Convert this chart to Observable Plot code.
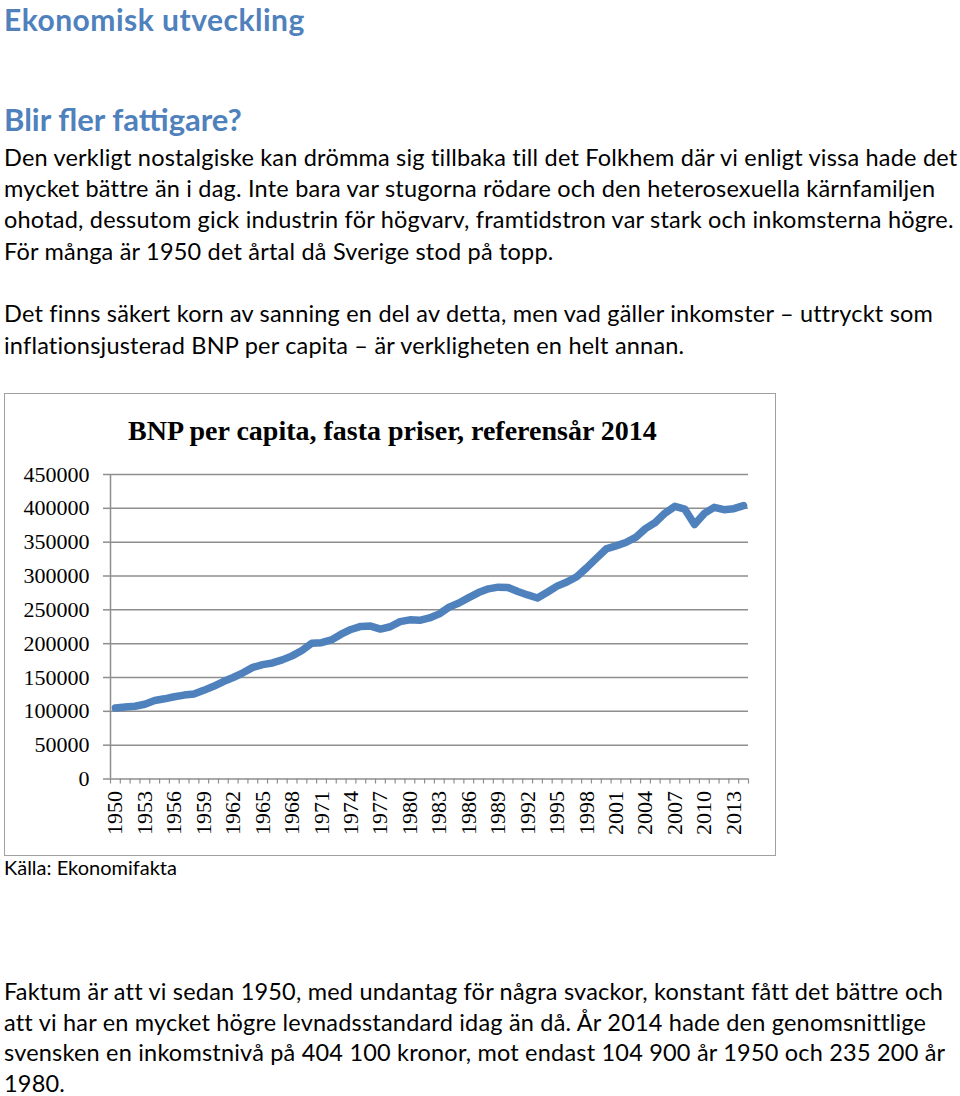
<!DOCTYPE html>
<html><head><meta charset="utf-8">
<script src="https://cdn.jsdelivr.net/npm/d3@7"></script>
<script src="https://cdn.jsdelivr.net/npm/@observablehq/plot@0.6"></script>
<style>
html,body{margin:0;padding:0;background:#fff;}
body{width:960px;height:1096px;position:relative;overflow:hidden;font-family:Lato, "Open Sans", sans-serif;}
.t{position:absolute;left:4px;white-space:nowrap;line-height:0.8;color:#000;font-size:23.5px;letter-spacing:0.2px;}
.h{color:#4F81BD;font-weight:700;letter-spacing:0;}
#box{position:absolute;left:4px;top:393px;width:772px;height:463px;border:1px solid #a0a0a0;box-sizing:border-box;pointer-events:none;}
#ctitle{position:absolute;left:128px;top:416.5px;font-family:"Liberation Serif", serif;font-weight:700;font-size:28px;line-height:1;white-space:nowrap;color:#000;}
#chart{position:absolute;left:0;top:393px;}
</style></head><body>
<div class="t h" style="top:6.6px;font-size:30px;letter-spacing:0.5px">Ekonomisk utveckling</div>
<div class="t h" style="top:106.6px;font-size:31px">Blir fler fattigare?</div>
<div class="t" style="top:147.5px">Den verkligt nostalgiske kan drömma sig tillbaka till det Folkhem där vi enligt vissa hade det</div>
<div class="t" style="top:178.8px">mycket bättre än i dag. Inte bara var stugorna rödare och den heterosexuella kärnfamiljen</div>
<div class="t" style="top:210.1px">ohotad, dessutom gick industrin för högvarv, framtidstron var stark och inkomsterna högre.</div>
<div class="t" style="top:241.5px">För många är 1950 det årtal då Sverige stod på topp.</div>
<div class="t" style="top:304.2px">Det finns säkert korn av sanning en del av detta, men vad gäller inkomster – uttryckt som</div>
<div class="t" style="top:335.5px">inflationsjusterad BNP per capita – är verkligheten en helt annan.</div>
<div id="chart"></div>
<div id="box"></div>
<div id="ctitle">BNP per capita, fasta priser, referensår 2014</div>
<div class="t" style="top:859.3px;font-size:20px;letter-spacing:0">Källa: Ekonomifakta</div>
<div class="t" style="top:982px">Faktum är att vi sedan 1950, med undantag för några svackor, konstant fått det bättre och</div>
<div class="t" style="top:1012.5px">att vi har en mycket högre levnadsstandard idag än då. År 2014 hade den genomsnittlige</div>
<div class="t" style="top:1043px">svensken en inkomstnivå på 404 100 kronor, mot endast 104 900 år 1950 och 235 200 år</div>
<div class="t" style="top:1073.5px">1980.</div>
<script>
const years = [1950,1951,1952,1953,1954,1955,1956,1957,1958,1959,
  1960,1961,1962,1963,1964,1965,1966,1967,1968,1969,
  1970,1971,1972,1973,1974,1975,1976,1977,1978,1979,
  1980,1981,1982,1983,1984,1985,1986,1987,1988,1989,
  1990,1991,1992,1993,1994,1995,1996,1997,1998,1999,
  2000,2001,2002,2003,2004,2005,2006,2007,2008,2009,
  2010,2011,2012,2013,2014];
const bnp = [104900,106500,107500,110500,116000,118500,121500,124000,125500,131000,
  137000,144000,150000,157000,165000,169000,171500,176000,182000,190000,
  200500,201500,205500,214000,221000,225500,226000,221500,225000,232500,
  235200,234500,238000,244000,254000,260000,268000,275500,281000,283500,
  283000,277000,272000,267500,276000,285000,291000,299000,312000,326000,
  340000,344500,349500,357000,370000,379000,393000,403000,399000,376000,
  392500,401500,398000,399500,404100];
const labelYears = [1950,1953,1956,1959,1962,1965,1968,1971,1974,1977,1980,1983,1986,1989,1992,1995,1998,2001,2004,2007,2010,2013];
const yTicks = [0,50000,100000,150000,200000,250000,300000,350000,400000,450000];

const data = years.map((year, i) => ({year, value: bnp[i]}));
const boundaries = years.map(y => y - 0.5).concat([years[years.length - 1] + 0.5]);
const gridColor = "#8e8e8e";
const serif = "Liberation Serif";

const chart = Plot.plot({
  width: 780,
  height: 463,
  marginLeft: 110,
  marginRight: 32,
  marginTop: 81,
  marginBottom: 77.5,
  style: {background: "transparent", overflow: "visible"},
  x: {type: "linear", domain: [1949.5, 2014.5]},
  y: {type: "linear", domain: [0, 450000]},
  marks: [
    Plot.gridY(yTicks, {stroke: gridColor, strokeOpacity: 1, strokeWidth: 1.5}),
    Plot.ruleX([1949.5], {stroke: gridColor, strokeWidth: 1.5}),
    Plot.axisY(yTicks, {tickSize: 7, tickPadding: 14, stroke: gridColor, strokeWidth: 1.5, fill: "#000",
      fontFamily: serif, fontSize: 22, tickFormat: d => String(d), label: null}),
    Plot.axisX(boundaries, {tickSize: 5, stroke: gridColor, strokeWidth: 1.2, tickFormat: () => "", label: null}),
    Plot.axisX(labelYears, {tickSize: 0, tickPadding: 12, tickRotate: -90, fill: "#000",
      fontFamily: serif, fontSize: 22, tickFormat: d => String(d), label: null}),
    Plot.line(data, {x: "year", y: "value", stroke: "#4F81BD", strokeWidth: 7.5,
      strokeLinejoin: "round", strokeLinecap: "round"})
  ]
});
document.getElementById("chart").appendChild(chart);
</script>
</body></html>
